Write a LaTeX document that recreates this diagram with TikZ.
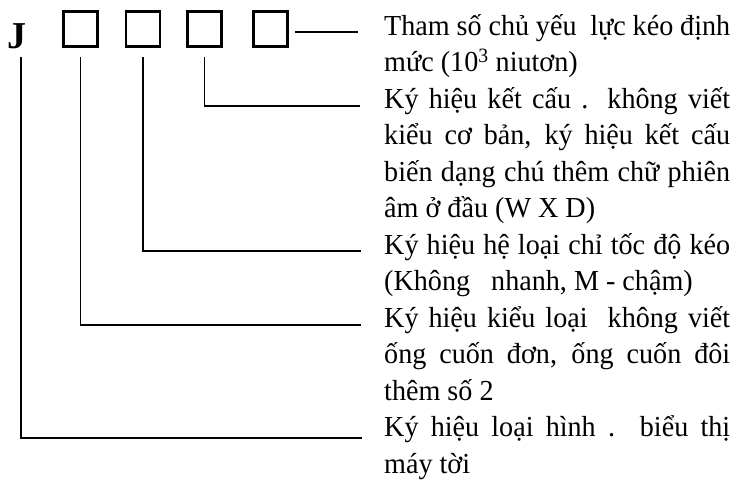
\documentclass[tikz,border=0pt]{standalone}
\usepackage{fontspec}
\setmainfont{Liberation Serif}
\newfontfamily\condfont[FakeStretch=0.97]{Liberation Serif}
\newcommand{\fullline}[1]{\makebox[346pt][s]{#1}}
\begin{document}
\begin{tikzpicture}[x=1pt,y=-1pt,
  codebox/.style={draw, line width=2.6pt, minimum width=34pt, minimum height=35pt, inner sep=0pt},
  lead/.style={line width=1.4pt},
  txt/.style={anchor=base west, inner sep=0pt, font=\condfont\fontsize{29}{36}\selectfont}]
\useasboundingbox (0,0) rectangle (741,482);
% code symbols
\node[anchor=base west, inner sep=0pt, font=\bfseries\fontsize{38}{38}\selectfont] (J) at (7,48) {J};
\node[codebox] (b1) at (80.5,29) {};
\node[codebox] (b2) at (143,29) {};
\node[codebox] (b3) at (204.5,29) {};
\node[codebox] (b4) at (270.5,29) {};
% text lines
\def\tx{384}
\node[txt] (t0) at (\tx,35) {\fullline{Tham số chủ yếu \ lực kéo định}};
\node[txt] (t1) at (\tx,71.5) {mức (10\textsuperscript{3} niutơn)};
\node[txt] (t2) at (\tx,108) {\fullline{Ký hiệu kết cấu . không viết}};
\node[txt] (t3) at (\tx,144.5) {\fullline{kiểu cơ bản, ký hiệu kết cấu}};
\node[txt] (t4) at (\tx,181) {\fullline{biến dạng chú thêm chữ phiên}};
\node[txt] (t5) at (\tx,217.5) {âm ở đầu (W X D)};
\node[txt] (t6) at (\tx,254) {\fullline{Ký hiệu hệ loại chỉ tốc độ kéo}};
\node[txt] (t7) at (\tx,290.5) {(Không \ \ nhanh, M - chậm)};
\node[txt] (t8) at (\tx,327) {\fullline{Ký hiệu kiểu loại \ không viết}};
\node[txt] (t9) at (\tx,363.5) {\fullline{ống cuốn đơn, ống cuốn đôi}};
\node[txt] (t10) at (\tx,400) {thêm số 2};
\node[txt] (t11) at (\tx,436.5) {\fullline{Ký hiệu loại hình . biểu thị}};
\node[txt] (t12) at (\tx,473) {máy tời};
% connector ends
\coordinate (e0) at (358,32);
\coordinate (e2) at (360,106);
\coordinate (e6) at (361,251);
\coordinate (e8) at (361,325);
\coordinate (e11) at (362,438);
\coordinate (s4) at (295,32);
% connectors
\draw[lead] (s4) -- (e0);
\draw[lead] (b3.south |- 0,57) |- (e2);
\draw[lead] (b2.south |- 0,57) |- (e6);
\draw[lead] (b1.south |- 0,57) |- (e8);
\draw[lead] (21,57) |- (e11);
\end{tikzpicture}
\end{document}
